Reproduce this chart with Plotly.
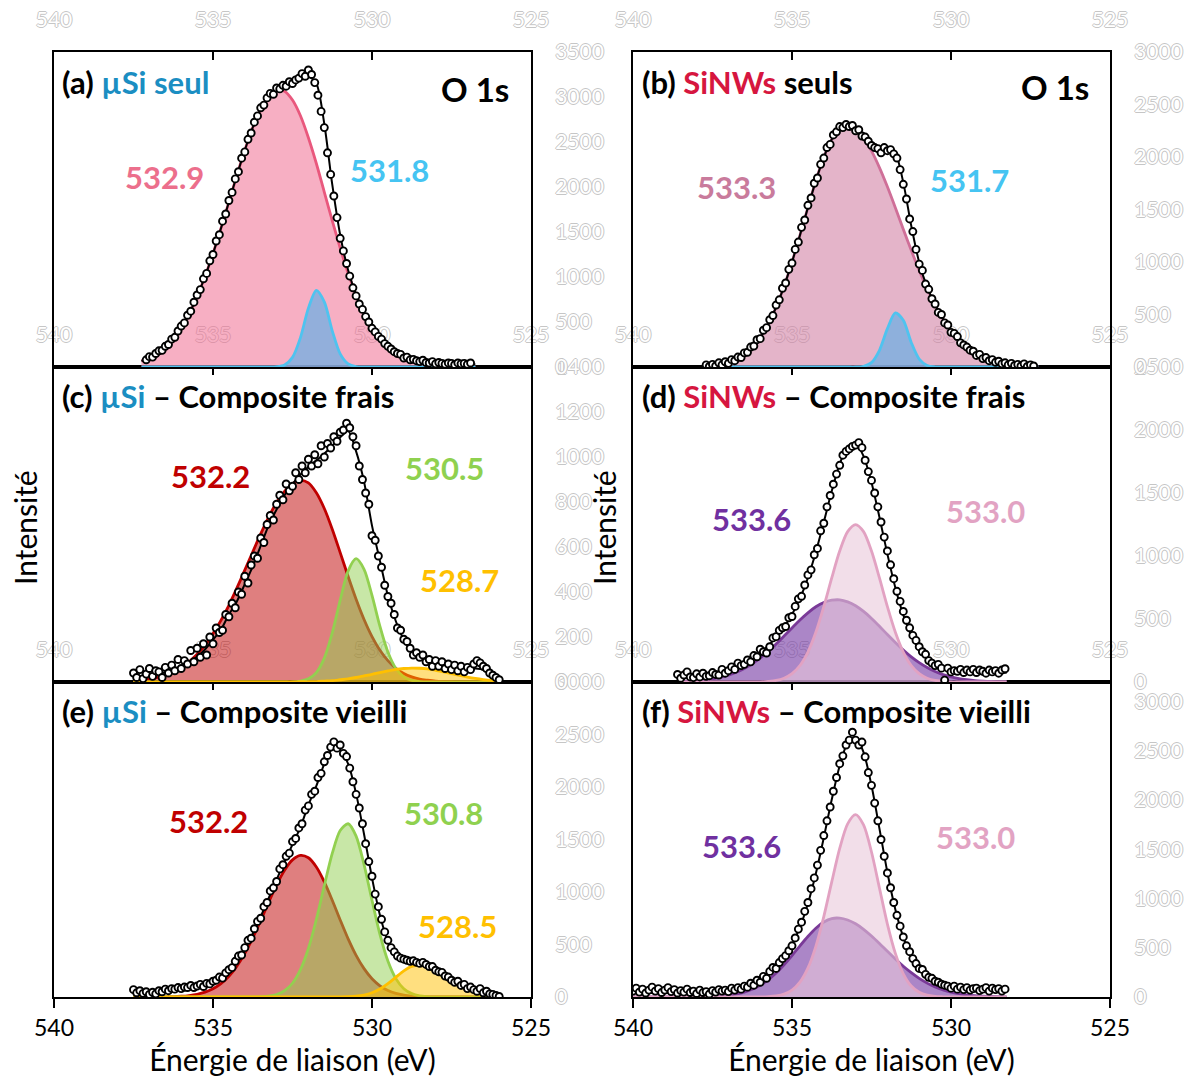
import numpy as np
import plotly.graph_objects as go

W, H = 1194, 1081
FONT = "Lato"

# ---------------- data (counts) ----------------
# (a) µSi seul : measured points every 0.1 eV from 537.1 to 526.9 eV
A_DATA_RANGE = (537.1, 526.9)
A_DATA = [80, 115, 110, 150, 180, 185, 230, 250, 310, 330,
          400, 455, 490, 575, 620, 720, 800, 860, 980, 1040,
          1180, 1250, 1400, 1470, 1620, 1700, 1850, 1940, 2090, 2170,
          2320, 2390, 2530, 2600, 2720, 2790, 2880, 2910, 2990, 3040,
          3030, 3100, 3090, 3130, 3120, 3170, 3150, 3190, 3210, 3260,
          3230, 3300, 3250, 3160, 3020, 2840, 2660, 2380, 2140, 1900,
          1660, 1430, 1290, 1150, 1010, 880, 790, 700, 640, 560,
          500, 430, 390, 340, 310, 260, 230, 200, 170, 150,
          140, 100, 110, 80, 85, 70, 60, 75, 50, 45,
          60, 35, 50, 40, 30, 45, 40, 25, 45, 35,
          40, 30, 45]
# fitted curves every 0.25 eV from 537.25 to 526.75 eV
A_FIT_RANGE = (537.25, 526.75)
A_ENV = [67, 103, 153, 223, 317, 440, 594, 782, 1007, 1260, 1540, 1833, 2128, 2408, 2661, 2865, 3003, 3077,
         3110, 3150, 3200, 3230, 3150, 2700, 2028, 1466, 1075, 803, 604, 448, 327, 235, 166, 117, 85, 63,
         49, 41, 36, 33, 32, 31, 30]
A_P5329 = [67, 103, 153, 223, 317, 440, 594, 782, 1007, 1260, 1540, 1833, 2128, 2408, 2661, 2865, 3003, 3074,
           3065, 2966, 2791, 2547, 2261, 1944, 1626, 1321, 1041, 798, 594, 428, 302, 205, 136, 87, 55, 33,
           19, 11, 6, 3, 2, 1, 0]
A_P5318 = [0, 0, 0, 0, 0, 0, 0, 0, 0, 0, 0, 0, 0, 0, 0, 0, 0, 3,
           23, 107, 327, 654, 852, 724, 402, 145, 34, 5, 0, 0, 0, 0, 0, 0, 0, 0,
           0, 0, 0, 0, 0, 0, 0]

# (b) SiNWs seuls
B_DATA_RANGE = (537.7, 527.4)
B_DATA = [20, 5, 25, 10, 40, 20, 50, 35, 70, 60,
          95, 90, 135, 140, 190, 200, 260, 270, 350, 375,
          450, 490, 590, 640, 750, 800, 930, 990, 1120, 1190,
          1330, 1400, 1540, 1610, 1750, 1800, 1930, 1990, 2090, 2120,
          2210, 2240, 2290, 2280, 2310, 2290, 2300, 2250, 2260, 2200,
          2190, 2150, 2110, 2090, 2080, 2040, 2090, 2060, 2070, 2030,
          1990, 1880, 1740, 1600, 1410, 1290, 1120, 980, 920, 790,
          740, 650, 600, 520, 500, 420, 400, 330, 320, 290,
          230, 210, 190, 160, 150, 110, 120, 80, 90, 60,
          70, 45, 55, 30, 40, 20, 35, 15, 25, 10,
          30, 5, 20, 10]
B_FIT_RANGE = (537.75, 527.25)
B_ENV = [8, 14, 26, 44, 74, 120, 187, 281, 407, 569, 768, 999, 1254, 1518, 1773, 1997, 2169, 2274, 2300,
         2264, 2190, 2100, 2058, 2081, 2032, 1756, 1345, 996, 760, 593, 460, 349, 259, 189, 134, 93, 63,
         43, 28, 18, 11, 7, 4]
B_P5333 = [8, 14, 26, 44, 74, 120, 187, 281, 407, 569, 768, 999, 1254, 1518, 1773, 1997, 2169, 2274, 2300,
           2264, 2183, 2058, 1899, 1716, 1517, 1311, 1111, 920, 745, 591, 460, 349, 259, 189, 134, 93, 63,
           43, 28, 18, 11, 7, 4]
B_P5317 = [0, 0, 0, 0, 0, 0, 0, 0, 0, 0, 0, 0, 0, 0, 0, 0, 0, 0, 0,
           0, 7, 42, 159, 365, 515, 445, 234, 76, 15, 2, 0, 0, 0, 0, 0, 0, 0,
           0, 0, 0, 0, 0, 0]

# (c) µSi - Composite frais
C_DATA_RANGE = (537.5, 526.0)
C_DATA = [40, 20, 55, 15, 35, 60, 25, 50, 45, 20,
          65, 40, 75, 50, 100, 60, 95, 80, 140, 90,
          150, 110, 170, 120, 200, 170, 240, 220, 230, 300,
          290, 350, 330, 400, 390, 470, 440, 520, 560, 550,
          640, 620, 700, 740, 720, 790, 830, 810, 880, 850,
          870, 930, 900, 960, 930, 990, 960, 1010, 970, 1050,
          1000, 1060, 1040, 1090, 1070, 1110, 1120, 1150, 1130, 1090,
          1050, 960, 900, 840, 790, 650, 630, 560, 510, 430,
          380, 350, 300, 240, 230, 190, 180, 150, 120, 130,
          110, 120, 90, 100, 70, 95, 70, 90, 60, 80,
          55, 75, 50, 70, 45, 65, 55, 80, 95, 85,
          70, 60, 40, 30, 20, 10]
C_FIT_RANGE = (537.5, 526.0)
C_ENV = [22, 25, 28, 34, 44, 56, 70, 87, 112, 145,
         188, 232, 300, 358, 435, 514, 605, 696, 767, 830,
         880, 922, 957, 985, 1015, 1050, 1087, 1115, 1025, 890,
         695, 538, 383, 270, 188, 138, 106, 89, 78, 70,
         62, 60, 60, 60, 55, 35, 15]
C_P5322 = [5, 9, 13, 21, 31, 45, 64, 90, 123, 164,
           215, 274, 341, 417, 497, 578, 658, 733, 798, 847,
           881, 896, 885, 841, 771, 679, 575, 469, 368, 278,
           202, 141, 95, 61, 38, 23, 13, 8, 4, 2,
           1, 0, 0, 0, 0, 0, 0]
C_P5305 = [0, 0, 0, 0, 0, 0, 0, 0, 0, 0,
           0, 0, 0, 0, 0, 0, 0, 0, 0, 0,
           0, 4, 14, 42, 106, 218, 364, 494, 548, 501,
           385, 247, 133, 60, 23, 7, 2, 0, 0, 0,
           0, 0, 0, 0, 0, 0, 0]
C_P5287 = [0, 0, 0, 0, 0, 0, 0, 0, 0, 0,
           0, 0, 0, 0, 0, 0, 0, 0, 0, 0,
           0, 1, 1, 2, 4, 6, 10, 14, 20, 27,
           34, 42, 49, 56, 60, 62, 61, 58, 52, 45,
           37, 29, 22, 16, 11, 7, 5]

# (d) SiNWs - Composite frais
D_DATA_RANGE = (538.6, 528.3)
D_DATA = [60, 30, 55, 80, 40, 35, 65, 40, 70, 45,
          50, 75, 60, 55, 100, 70, 90, 120, 100, 150,
          130, 140, 175, 160, 210, 200, 260, 240, 230, 280,
          350, 360, 410, 430, 440, 510, 520, 600, 660, 680,
          770, 850, 890, 1010, 1060, 1200, 1260, 1390, 1480, 1570,
          1650, 1720, 1800, 1830, 1850, 1870, 1880, 1900, 1860, 1760,
          1670, 1600, 1500, 1390, 1270, 1150, 1040, 930, 820, 720,
          640, 560, 490, 430, 370, 330, 280, 240, 220, 170,
          150, 130, 140, 110, 15, 110, 80, 90, 85, 100,
          75, 95, 80, 100, 75, 95, 85, 70, 95, 80,
          90, 70, 95, 105]
D_FIT_RANGE = (538.5, 528.25)
D_ENV = [44, 46, 50, 56, 65, 78, 95, 118, 148, 185,
         232, 288, 354, 435, 535, 663, 827, 1032, 1269, 1515,
         1731, 1869, 1894, 1793, 1583, 1308, 1015, 749, 532, 371,
         260, 185, 150, 124, 105, 95, 88, 82, 78, 76,
         75, 74]
D_P5336 = [4, 6, 10, 16, 25, 38, 55, 78, 108, 145,
           191, 243, 302, 365, 429, 492, 549, 597, 631, 649,
           652, 636, 605, 560, 504, 442, 377, 314, 254, 200,
           154, 115, 84, 59, 41, 27, 18, 11, 7, 4,
           3, 2]
D_P5330 = [0, 0, 0, 0, 0, 0, 0, 0, 0, 0,
           1, 5, 12, 30, 66, 131, 238, 395, 598, 826,
           1039, 1193, 1249, 1193, 1039, 826, 598, 395, 238, 131,
           66, 30, 12, 5, 0, 0, 0, 0, 0, 0,
           0, 0]

# (e) µSi - Composite vieilli
E_DATA_RANGE = (537.5, 526.0)
E_DATA = [70, 40, 60, 35, 50, 25, 45, 30, 60, 50,
          75, 60, 80, 75, 90, 80, 95, 90, 110, 90,
          105, 120, 100, 130, 125, 150, 160, 190, 180, 230,
          260, 280, 340, 390, 400, 470, 540, 560, 650, 720,
          750, 860, 900, 1010, 1040, 1100, 1220, 1260, 1340, 1370,
          1480, 1510, 1610, 1650, 1780, 1820, 1930, 1960, 2090, 2130,
          2240, 2300, 2380, 2430, 2370, 2400, 2320, 2290, 2180, 2050,
          1930, 1800, 1650, 1460, 1290, 1150, 980, 860, 740, 620,
          540, 470, 430, 390, 370, 360, 350, 340, 345, 330,
          320, 330, 310, 290, 290, 255, 240, 235, 200, 190,
          160, 140, 150, 110, 120, 80, 95, 70, 55, 80,
          40, 55, 30, 25, 15, 5]
E_FIT_RANGE = (537.5, 526.0)
E_ENV = [55, 55, 55, 56, 57, 58, 62, 69, 81, 101,
         133, 182, 252, 343, 460, 603, 767, 942, 1118, 1288,
         1452, 1618, 1830, 2010, 2220, 2360, 2350, 2220, 1937, 1550,
         1135, 779, 531, 398, 346, 332, 316, 294, 260, 216,
         169, 124, 86, 55, 33, 19, 10]
E_P5322 = [0, 0, 0, 1, 2, 3, 7, 14, 26, 46,
           78, 127, 197, 293, 415, 563, 729, 903, 1069, 1208,
           1306, 1348, 1326, 1238, 1097, 922, 734, 554, 397, 270,
           174, 107, 62, 34, 18, 9, 4, 2, 1, 0,
           0, 0, 0, 0, 0, 0, 0]
E_P5308 = [0, 0, 0, 0, 0, 0, 0, 0, 0, 0,
           0, 0, 0, 0, 0, 0, 3, 9, 24, 60,
           131, 260, 462, 738, 1060, 1367, 1585, 1650, 1532, 1261,
           921, 596, 342, 175, 79, 32, 11, 4, 1, 0,
           0, 0, 0, 0, 0, 0, 0]
E_P5285 = [0, 0, 0, 0, 0, 0, 0, 0, 0, 0,
           0, 0, 0, 0, 0, 0, 0, 0, 0, 0,
           0, 0, 0, 0, 0, 0, 1, 3, 8, 19,
           40, 76, 127, 189, 249, 291, 301, 288, 258, 216,
           169, 124, 86, 55, 33, 19, 10]

# (f) SiNWs - Composite vieilli
F_DATA_RANGE = (540.0, 528.3)
F_DATA = [60, 90, 50, 80, 40, 70, 100, 60, 85, 45,
          70, 95, 55, 75, 40, 65, 50, 80, 45, 60,
          35, 70, 45, 55, 30, 65, 50, 75, 60, 70,
          55, 90, 70, 95, 80, 110, 100, 140, 120, 170,
          150, 210, 190, 260, 300, 290, 350, 390, 420, 470,
          520, 600, 690, 760, 870, 960, 1100, 1210, 1340, 1490,
          1640, 1790, 1930, 2090, 2230, 2370, 2450, 2560, 2610, 2690,
          2610, 2560, 2590, 2440, 2280, 2150, 1970, 1790, 1600, 1430,
          1260, 1110, 960, 830, 720, 610, 520, 460, 390, 340,
          290, 280, 230, 200, 190, 160, 150, 130, 120, 110,
          90, 110, 80, 100, 75, 95, 70, 85, 90, 65,
          80, 95, 60, 90, 75, 85, 60, 80]
F_FIT_RANGE = (540.0, 528.25)
F_ENV = [40, 40, 40, 40, 40, 40, 40, 41, 41, 43,
         45, 50, 58, 71, 90, 119, 161, 219, 295, 397,
         531, 711, 948, 1254, 1619, 2006, 2350, 2581, 2641, 2486,
         2148, 1711, 1265, 889, 608, 419, 297, 219, 169, 135,
         110, 99, 92, 84, 79, 75, 73, 72]
F_P5336 = [0, 0, 0, 0, 0, 0, 0, 1, 1, 3,
           5, 10, 18, 31, 50, 79, 120, 175, 244, 328,
           421, 520, 615, 699, 762, 797, 801, 782, 744, 688,
           620, 544, 464, 386, 312, 247, 189, 141, 103, 73,
           50, 34, 22, 14, 9, 5, 3, 2]
F_P5330 = [0, 0, 0, 0, 0, 0, 0, 0, 0, 0,
           0, 0, 0, 0, 0, 0, 1, 4, 11, 29,
           70, 151, 293, 515, 817, 1169, 1509, 1759, 1852, 1748,
           1473, 1107, 741, 443, 236, 112, 48, 18, 6, 2,
           0, 0, 0, 0, 0, 0, 0, 0]

X_TICKS = [540, 535, 530, 525]

# ---------------- styles ----------------
C_PINK = ("#e9587d", "rgba(240,110,145,0.55)")
C_BLUE = ("#4fc3ef", "rgba(120,175,225,0.8)")
C_MAUVE = ("#cf6f98", "rgba(210,130,165,0.6)")
C_RED = ("#c00000", "rgba(192,0,0,0.5)")
C_GREEN = ("#92d050", "rgba(146,208,80,0.5)")
C_YELLOW = ("#ffc000", "rgba(255,192,0,0.5)")
C_PURPLE = ("#7a3a98", "rgba(120,60,165,0.62)")
C_LPINK = ("#e2a2c2", "rgba(234,200,218,0.6)")

BLUE_T = "#1b8ec2"
RED_T = "#d6163f"

LEFT = [54 / W, 531 / W]
RIGHT = [633 / W, 1110 / W]
ROWS = [[1 - 367 / H, 1 - 52 / H], [1 - 682 / H, 1 - 367 / H], [1 - 997 / H, 1 - 682 / H]]

GHOST_COL = "#c6c6c6"
GHOST = dict(family=FONT, size=21, color="white",
             shadow=f"1px 0 0 {GHOST_COL}, -1px 0 0 {GHOST_COL}, 0 1px 0 {GHOST_COL}, 0 -1px 0 {GHOST_COL}")

panels = [
    dict(col=0, row=0, data=(A_DATA_RANGE, A_DATA), fit=A_FIT_RANGE, env=A_ENV,
         comps=[(A_P5329, C_PINK), (A_P5318, C_BLUE)], ytop=3500, dtick=500),
    dict(col=1, row=0, data=(B_DATA_RANGE, B_DATA), fit=B_FIT_RANGE, env=B_ENV,
         comps=[(B_P5333, C_MAUVE), (B_P5317, C_BLUE)], ytop=3000, dtick=500),
    dict(col=0, row=1, data=(C_DATA_RANGE, C_DATA), fit=C_FIT_RANGE, env=C_ENV,
         comps=[(C_P5322, C_RED), (C_P5305, C_GREEN), (C_P5287, C_YELLOW)], ytop=1400, dtick=200),
    dict(col=1, row=1, data=(D_DATA_RANGE, D_DATA), fit=D_FIT_RANGE, env=D_ENV,
         comps=[(D_P5336, C_PURPLE), (D_P5330, C_LPINK)], ytop=2500, dtick=500),
    dict(col=0, row=2, data=(E_DATA_RANGE, E_DATA), fit=E_FIT_RANGE, env=E_ENV,
         comps=[(E_P5322, C_RED), (E_P5308, C_GREEN), (E_P5285, C_YELLOW)], ytop=3000, dtick=500),
    dict(col=1, row=2, data=(F_DATA_RANGE, F_DATA), fit=F_FIT_RANGE, env=F_ENV,
         comps=[(F_P5336, C_PURPLE), (F_P5330, C_LPINK)], ytop=3200, dtick=500),
]
# subplot ids: lower rows get lower ids so that upper panels are drawn on top of
# the faint axis labels of the panel below
SUBPLOT_ID = [5, 6, 3, 4, 1, 2]

fig = go.Figure()
layout = {}

for i, p in enumerate(panels):
    n = SUBPLOT_ID[i]
    sid = "" if n == 1 else str(n)
    oid = str(n + 6)
    xref, yref, oref = "x" + sid, "y" + sid, "x" + oid
    (d0, d1), dvals = p["data"]
    e_data = np.linspace(d0, d1, len(dvals))
    f0, f1 = p["fit"]
    e_fit = np.linspace(f0, f1, len(p["env"]))

    for vals, (lc, fc) in p["comps"]:
        fig.add_trace(go.Scatter(x=e_fit, y=vals, mode="lines", fill="tozeroy", fillcolor=fc,
                                 line=dict(color=lc, width=2.8, shape="spline", smoothing=0.8),
                                 xaxis=xref, yaxis=yref, hoverinfo="skip", showlegend=False))
    fig.add_trace(go.Scatter(x=e_fit, y=p["env"], mode="lines",
                             line=dict(color="black", width=2, shape="spline", smoothing=0.8),
                             xaxis=oref, yaxis=yref, hoverinfo="skip", showlegend=False))
    fig.add_trace(go.Scatter(x=e_data, y=dvals, mode="markers",
                             marker=dict(symbol="circle", size=7, color="white",
                                         line=dict(color="black", width=1.9)),
                             xaxis=oref, yaxis=yref, hoverinfo="skip", showlegend=False))

    bottom = p["row"] == 2
    xdom = LEFT if p["col"] == 0 else RIGHT
    # frame + inside top ticks + faint top labels
    layout["xaxis" + sid] = dict(
        domain=xdom, anchor=yref, side="top", range=[540, 525],
        showline=True, linewidth=2, linecolor="black", mirror=True,
        showgrid=False, zeroline=False, automargin=False,
        ticks="inside", ticklen=8, tickwidth=2, tickcolor="black",
        tickvals=X_TICKS, tickfont=GHOST, ticklabelstandoff=15,
    )
    # bottom axis (ticks and labels only on the lowest row)
    layout["xaxis" + oid] = dict(
        overlaying=xref, anchor=yref, side="bottom", range=[540, 525], domain=xdom,
        showline=False, showgrid=False, zeroline=False, automargin=False,
        ticks="outside" if bottom else "", ticklen=10, tickwidth=2, tickcolor="black",
        tickvals=X_TICKS, showticklabels=bottom,
        tickfont=dict(family=FONT, size=23, color="black"),
        title=dict(text="Énergie de liaison (eV)" if bottom else "",
                   font=dict(family=FONT, size=30, color="black"), standoff=6),
    )
    layout["yaxis" + sid] = dict(
        domain=ROWS[p["row"]], anchor=xref, range=[0, p["ytop"]], side="right",
        showline=True, linewidth=2, linecolor="black", mirror=True, automargin=False,
        showgrid=False, zeroline=False, ticks="", dtick=p["dtick"], tickformat="d",
        tickfont=GHOST, ticklabelstandoff=18,
    )


def px(x):
    return x / W


def py(y):
    return 1 - y / H


ann = []
titles = [
    ("(a) <span style='color:%s'>µSi seul</span>" % BLUE_T, 60, 82),
    ("(b) <span style='color:%s'>SiNWs</span> seuls" % RED_T, 640, 82),
    ("(c) <span style='color:%s'>µSi</span> – Composite frais" % BLUE_T, 60, 396),
    ("(d) <span style='color:%s'>SiNWs</span> – Composite frais" % RED_T, 640, 396),
    ("(e) <span style='color:%s'>µSi</span> – Composite vieilli" % BLUE_T, 60, 711),
    ("(f) <span style='color:%s'>SiNWs</span> – Composite vieilli" % RED_T, 640, 711),
]
for t, x, y in titles:
    ann.append(dict(text=t, x=px(x), y=py(y), xref="paper", yref="paper", xanchor="left",
                    yanchor="middle", showarrow=False,
                    font=dict(family=FONT, size=31, color="black", weight=700)))

for x, y in [(511, 89), (1091, 87)]:
    ann.append(dict(text="O 1s", x=px(x), y=py(y), xref="paper", yref="paper", xanchor="right",
                    yanchor="middle", showarrow=False,
                    font=dict(family=FONT, size=33, color="black", weight=700)))

peak_labels = [
    ("532.9", 165, 177, "#ec6f8c"), ("531.8", 389, 170, "#45c4f2"),
    ("533.3", 736, 187, "#c97b9c"), ("531.7", 969, 180, "#45c4f2"),
    ("532.2", 210, 476, "#c00000"), ("530.5", 444, 468, "#8fd14f"), ("528.7", 459, 580, "#ffc000"),
    ("533.6", 751, 519, "#7030a0"), ("533.0", 985, 511, "#e2a3c3"),
    ("532.2", 208, 821, "#c00000"), ("530.8", 443, 813, "#8fd14f"), ("528.5", 457, 926, "#ffc000"),
    ("533.6", 741, 846, "#7030a0"), ("533.0", 975, 837, "#e2a3c3"),
]
for t, x, y, c in peak_labels:
    ann.append(dict(text=t, x=px(x), y=py(y), xref="paper", yref="paper", xanchor="center",
                    yanchor="middle", showarrow=False,
                    font=dict(family=FONT, size=31, color=c, weight=700)))

for x in (25, 604):
    ann.append(dict(text="Intensité", x=px(x), y=py(528), xref="paper", yref="paper",
                    xanchor="center", yanchor="middle", textangle=-90, showarrow=False,
                    font=dict(family=FONT, size=30, color="black")))

fig.update_layout(
    width=W, height=H, margin=dict(l=0, r=0, t=0, b=0, autoexpand=False),
    paper_bgcolor="white", plot_bgcolor="rgba(0,0,0,0)", showlegend=False,
    annotations=ann, **layout,
)

fig.write_html("out.html", config={"displayModeBar": False},
               post_script="document.body.style.margin='0px';")
